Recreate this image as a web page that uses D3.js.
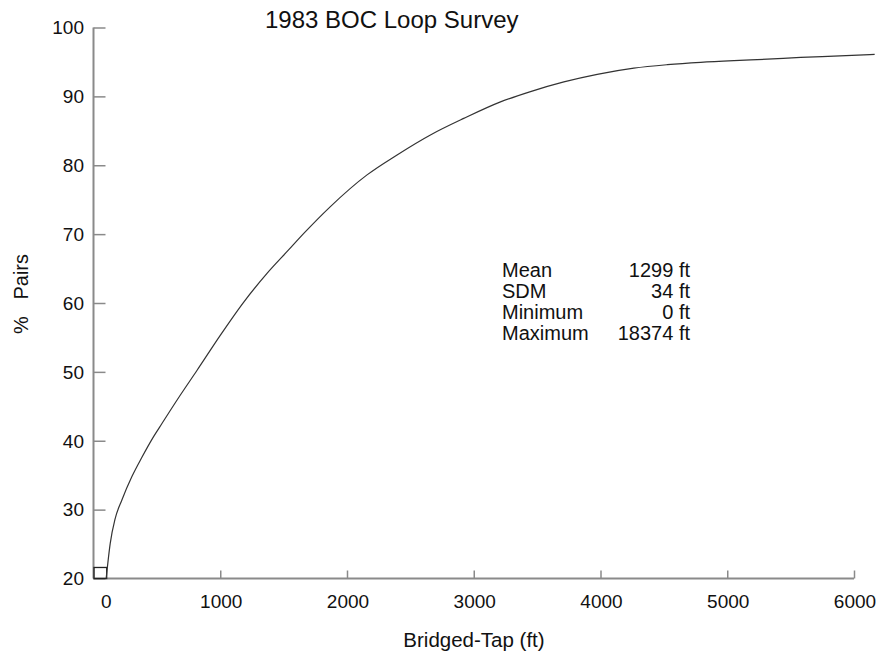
<!DOCTYPE html>
<html>
<head>
<meta charset="utf-8">
<script src="https://cdn.jsdelivr.net/npm/d3@7"></script>
<style>
  html, body { margin: 0; padding: 0; background: #fff; }
  svg { display: block; }
  text { font-family: "Liberation Sans", Arial, sans-serif; fill: #111; }
</style>
</head>
<body>
<svg id="chart" width="880" height="657"></svg>
<script>
// ---- data ----
const tapFeet = [100, 132, 171, 224, 303, 382, 474, 540, 684, 816, 1000, 1184, 1369, 1539, 1659, 1869, 2158, 2395, 2658, 2921, 3211, 3448, 3711, 3974, 4263, 4527, 4790, 5053, 5316, 5579, 5842, 6163];
const pctPairs = [20, 25.1, 28.7, 31.4, 34.8, 37.6, 40.6, 42.5, 46.6, 50.2, 55.3, 60.1, 64.3, 67.7, 70.1, 74.0, 78.6, 81.5, 84.4, 86.8, 89.2, 90.7, 92.1, 93.2, 94.1, 94.6, 94.95, 95.2, 95.4, 95.65, 95.85, 96.1];
const zeroBinFeet = [0, 100];
const zeroBinPct = [20, 21.6];
const xTickValues = [0, 1000, 2000, 3000, 4000, 5000, 6000];
const yTickValues = [20, 30, 40, 50, 60, 70, 80, 90, 100];
const statLabels = ["Mean", "SDM", "Minimum", "Maximum"];
const statValues = ["1299 ft", "34 ft", "0 ft", "18374 ft"];
const titleText = "1983 BOC Loop Survey";
const xLabelText = "Bridged-Tap (ft)";
const yLabelText = "%   Pairs";

// ---- scales ----
const x = d3.scaleLinear().domain([0, 6000]).range([93.5, 854]);
const y = d3.scaleLinear().domain([20, 100]).range([578.5, 27.5]);

const svg = d3.select("#chart");
const axisColor = "#8a8a8a";

// y axis
const yAxis = svg.append("g").attr("transform", `translate(${x(0)},0)`)
  .call(d3.axisRight(y).tickValues(yTickValues).tickSize(12).tickFormat(""));
yAxis.select(".domain").remove();
yAxis.selectAll(".tick line").attr("stroke", axisColor).attr("stroke-width", 1.5);
svg.append("line")
  .attr("x1", x(0)).attr("x2", x(0))
  .attr("y1", y(20)).attr("y2", y(100))
  .attr("stroke", axisColor).attr("stroke-width", 2);
svg.append("g").selectAll("text").data(yTickValues).join("text")
  .attr("x", 84).attr("y", d => y(d)).attr("dy", "0.36em")
  .attr("text-anchor", "end").attr("font-size", 19)
  .text(d => d);

// x axis
const xAxis = svg.append("g").attr("transform", `translate(0,${y(20)})`)
  .call(d3.axisTop(x).tickValues(xTickValues.slice(1)).tickSize(8).tickFormat(""));
xAxis.select(".domain").remove();
xAxis.selectAll(".tick line").attr("stroke", axisColor).attr("stroke-width", 1.5);
svg.append("line")
  .attr("x1", x(0)).attr("x2", x(6000))
  .attr("y1", y(20)).attr("y2", y(20))
  .attr("stroke", axisColor).attr("stroke-width", 2);
svg.append("g").selectAll("text").data(xTickValues).join("text")
  .attr("x", d => d === 0 ? x(100) : x(d) + 1).attr("y", 608)
  .attr("text-anchor", "middle").attr("font-size", 19)
  .text(d => d);

// zero bin box
svg.append("rect")
  .attr("x", x(zeroBinFeet[0]) + 0.5).attr("y", y(zeroBinPct[1]))
  .attr("width", x(zeroBinFeet[1]) - x(zeroBinFeet[0]))
  .attr("height", y(zeroBinPct[0]) - y(zeroBinPct[1]))
  .attr("fill", "none").attr("stroke", "#222").attr("stroke-width", 1.3);

// curve
const pts = tapFeet.map((d, i) => [d, pctPairs[i]]);
svg.append("path")
  .datum(pts)
  .attr("fill", "none").attr("stroke", "#333").attr("stroke-width", 1.2)
  .attr("d", d3.line().x(d => x(d[0])).y(d => y(d[1])).curve(d3.curveMonotoneX));

// title
svg.append("text").attr("x", 265).attr("y", 28).attr("font-size", 24).text(titleText);

// axis labels
svg.append("text").attr("x", 474).attr("y", 647).attr("text-anchor", "middle")
  .attr("font-size", 20.5).text(xLabelText);
svg.append("text").attr("transform", "translate(28,294) rotate(-90)")
  .attr("text-anchor", "middle").attr("font-size", 20)
  .style("white-space", "pre").text(yLabelText);

// stats
const statBase = [277, 298, 319, 340];
const stats = svg.append("g");
stats.selectAll("text.lbl").data(statLabels).join("text").attr("class", "lbl")
  .attr("x", 502).attr("y", (d, i) => statBase[i]).attr("font-size", 20).text(d => d);
stats.selectAll("text.val").data(statValues).join("text").attr("class", "val")
  .attr("x", 690).attr("y", (d, i) => statBase[i]).attr("text-anchor", "end")
  .attr("font-size", 20).text(d => d);
</script>
</body>
</html>
